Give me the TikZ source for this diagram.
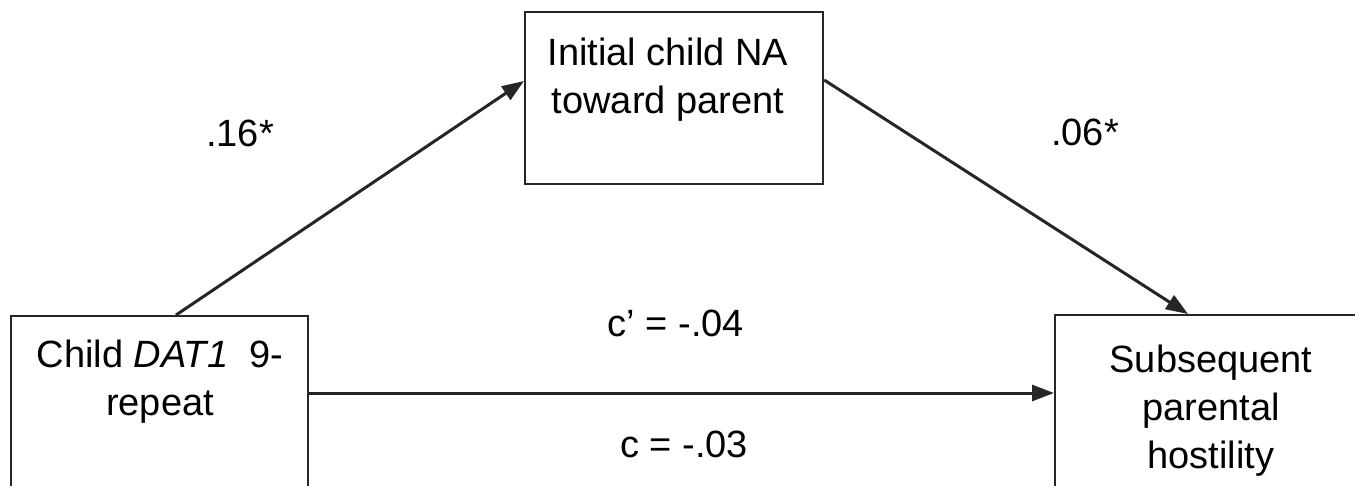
\documentclass[tikz,border=0pt]{standalone}
\usepackage{fontspec}
\setmainfont{Liberation Sans}
\usetikzlibrary{arrows.meta}
\definecolor{ink}{HTML}{262626}
\tikzset{
  box/.style={draw=ink, line width=2.2pt, fill=none, inner sep=0pt, anchor=north west},
  txt/.style={inner sep=0pt, align=center, anchor=base, font=\fontsize{38}{48}\selectfont},
  arr/.style={draw=ink, line width=3pt, -{Triangle[length=22pt,width=16pt]}}
}
\begin{document}
\begin{tikzpicture}[x=1pt,y=-1pt]
\useasboundingbox (0,0) rectangle (1355,485);
% boxes
\node[box, minimum width=298pt, minimum height=172pt] (na) at (524,11) {};
\node[box, minimum width=297pt, minimum height=200pt] (dat) at (10,315) {};
\node[box, minimum width=310pt, minimum height=200pt] (hos) at (1054,314) {};
% box texts (anchor base = baseline of the last line)
\node[txt] (natext) at (668,113) {Initial child NA\\toward parent};
\node[txt] (dattext) at (160,415) {Child \textit{DAT1}\ \ 9-\\repeat};
\node[txt] (hostext) at (1211,468) {Subsequent\\parental\\hostility};
% connectors
\draw[arr] ([xshift=166pt]dat.north west) -- ([yshift=-70pt]na.north west);
\draw[arr] ([yshift=-69pt]na.north east) -- ([xshift=134pt]hos.north west);
\draw[arr] ([yshift=-78pt]dat.north east) -- ([yshift=-79pt]hos.north west);
% labels
\node[txt] (a) at (240,146) {.16*};
\node[txt] (b) at (1085,145) {.06*};
\node[txt] (cp) at (676,336) {c’ = -.04};
\node[txt] (c) at (684,457) {c = -.03};
\end{tikzpicture}
\end{document}
